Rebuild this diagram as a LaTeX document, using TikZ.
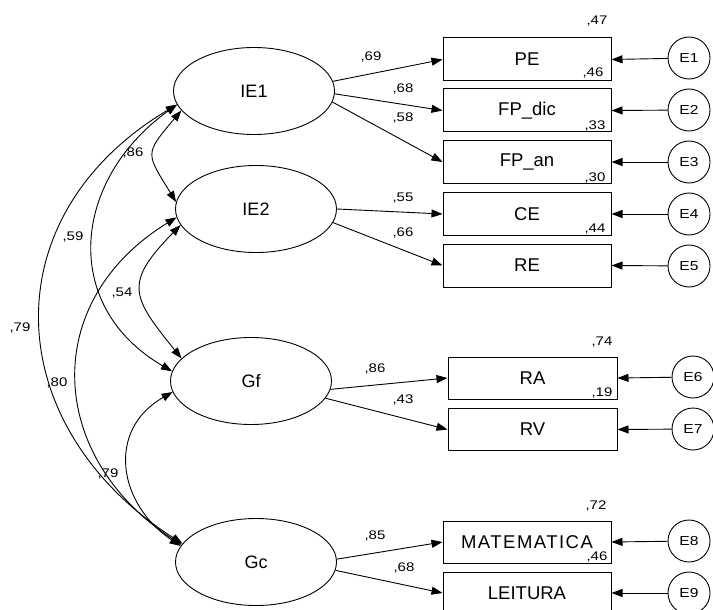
\documentclass[tikz,border=0pt]{standalone}
\usepackage{fontspec}
\setmainfont{Liberation Sans}
\newfontfamily\coeffont[FakeStretch=1.2]{Liberation Sans}
\newfontfamily\widefont[LetterSpace=8]{Liberation Sans}
\usetikzlibrary{shapes.geometric,arrows.meta}
\begin{document}
\begin{tikzpicture}[x=1pt,y=-1pt,line width=0.9pt,
  latent/.style={ellipse,draw,minimum width=161pt,minimum height=87pt,inner sep=0pt,
    font=\fontsize{18}{20}\selectfont},
  obs/.style={rectangle,draw,line width=1pt,minimum width=168pt,minimum height=43pt,inner sep=0pt,
    font=\fontsize{18.5}{21}\selectfont},
  err/.style={circle,draw,minimum size=42pt,inner sep=0pt,
    font=\coeffont\fontsize{13}{15}\selectfont},
  coef/.style={inner sep=0pt,font=\coeffont\fontsize{12.5}{14}\selectfont},
  tip/.style={-{Triangle[length=11pt,width=8pt]}},
  cov/.style={{Triangle[length=11pt,width=8pt]}-{Triangle[length=11pt,width=8pt]}},
]
\useasboundingbox (0,0) rectangle (713,610);

% latent factors
\node[latent] (IE1) at (254,91) {IE1};
\node[latent] (IE2) at (256,209) {IE2};
\node[latent] (Gf)  at (251,381) {Gf};
\node[latent] (Gc)  at (256,562) {Gc};

% observed indicators
\node[obs] (PE)  at (527,59.5)  {PE};
\node[obs] (FPd) at (527,110.5) {FP\_dic};
\node[obs] (FPa) at (527,162)   {FP\_an};
\node[obs] (CE)  at (527,214)   {CE};
\node[obs] (RE)  at (527,265.5) {RE};
\node[obs,minimum width=169pt,minimum height=42pt] (RA) at (532.5,378)   {RA};
\node[obs,minimum width=169pt,minimum height=42pt] (RV) at (532.5,429.5) {RV};
\node[obs,minimum height=42pt,font=\widefont\fontsize{18.5}{21}\selectfont] (MAT) at (527,542) {MATEMATICA};
\node[obs,minimum height=42pt] (LEI) at (527,593) {LEITURA};

% error terms
\node[err] (E1) at (689,58)  {E1};
\node[err] (E2) at (689,110) {E2};
\node[err] (E3) at (689,162) {E3};
\node[err] (E4) at (689,214) {E4};
\node[err] (E5) at (689,266) {E5};
\node[err] (E6) at (693,377) {E6};
\node[err] (E7) at (693,429) {E7};
\node[err] (E8) at (689,541) {E8};
\node[err] (E9) at (689,593) {E9};

% error paths
\foreach \e/\v in {E1/PE,E2/FPd,E3/FPa,E4/CE,E5/RE,E6/RA,E7/RV,E8/MAT,E9/LEI}
  \draw[tip] (\e) -- (\v.east);

% factor loadings
\draw[tip] (IE1.7)  -- (PE.west);
\draw[tip] (IE1.-2) -- (FPd.west);
\draw[tip] (IE1.-8) -- (FPa.west);
\draw[tip] (IE2.0)  -- (CE.west);
\draw[tip] (IE2.-10) -- (RE.west);
\draw[tip] (Gf.-6)  -- (RA.west);
\draw[tip] (Gf.-13) -- (RV.west);
\draw[tip] (Gc.2)   -- (MAT.west);
\draw[tip] (Gc.-6)  -- (LEI.west);

% factor correlations
\draw[cov] (IE1.195) .. controls (144,154.5) and (146,153) .. (IE2.175);
\draw[cov] (IE2.192) .. controls (124,283) and (131,296) .. (Gf.162);
\draw[cov] (IE1.190) .. controls (72,180) and (60,306) .. (Gf.173);
\draw[cov] (IE1.190) .. controls (-10,216) and (-1,426) .. (Gc.166);
\draw[cov] (IE2.186) .. controls (39,302) and (47,457) .. (Gc.167);
\draw[cov] (Gf.188) .. controls (106,430) and (118,504) .. (Gc.168);

% correlation values
\node[coef] (c1) at (133,153) {,86};
\node[coef] (c2) at (73,237)  {,59};
\node[coef] (c3) at (122,293) {,54};
\node[coef] (c4) at (20,328)  {,79};
\node[coef] (c5) at (57,383)  {,80};
\node[coef] (c6) at (108,474) {,79};

% loading values
\node[coef] (l1) at (371,57)  {,69};
\node[coef] (l2) at (403,89)  {,68};
\node[coef] (l3) at (403,118) {,58};
\node[coef] (l4) at (403,198) {,55};
\node[coef] (l5) at (403,233) {,66};
\node[coef] (l6) at (375,369) {,86};
\node[coef] (l7) at (403,400) {,43};
\node[coef] (l8) at (375,536) {,85};
\node[coef] (l9) at (404,568) {,68};

% squared multiple correlations
\node[coef] (r1) at (597,21)  {,47};
\node[coef] (r2) at (593,73)  {,46};
\node[coef] (r3) at (595,126) {,33};
\node[coef] (r4) at (595,178) {,30};
\node[coef] (r5) at (595,229) {,44};
\node[coef] (r6) at (602,342) {,74};
\node[coef] (r7) at (602,393) {,19};
\node[coef] (r8) at (596,506) {,72};
\node[coef] (r9) at (597,557) {,46};
\end{tikzpicture}
\end{document}
